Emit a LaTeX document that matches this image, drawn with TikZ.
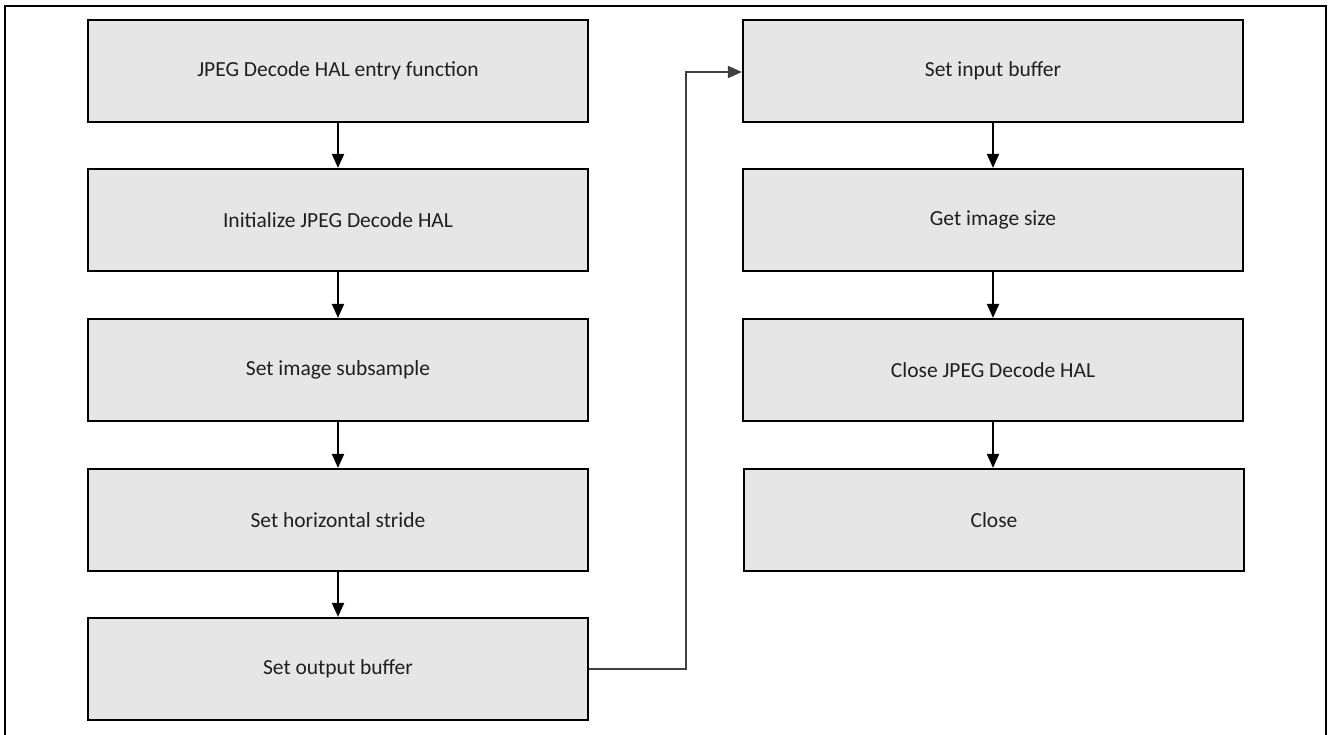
\documentclass[tikz,border=0pt]{standalone}
\usepackage{fontspec}
\setmainfont{Carlito}
\usetikzlibrary{arrows.meta}
\definecolor{boxfill}{HTML}{E6E6E6}
\definecolor{linkgray}{HTML}{404040}
\tikzset{
  stepbox/.style={draw=black, line width=2.2pt, fill=boxfill,
    minimum width=500pt, minimum height=102pt, inner sep=0pt,
    font=\fontsize{21.5}{24}\selectfont, text=black!88},
  flow/.style={draw=black, line width=2pt, -{Triangle[length=14pt,width=12pt]}},
  link/.style={draw=linkgray, line width=2pt, -{Triangle[length=14pt,width=12pt]}}
}
\begin{document}
\begin{tikzpicture}[x=1pt,y=-1pt]
  \useasboundingbox (0,0) rectangle (1328,734);
  % outer frame (bottom edge lies below the page)
  \draw[line width=2.2pt] (5,6) rectangle (1326,745);

  % left column
  \node[stepbox] (a1) at (338,71)  {JPEG Decode HAL entry function};
  \node[stepbox] (a2) at (338,220) {Initialize JPEG Decode HAL};
  \node[stepbox] (a3) at (338,370) {Set image subsample};
  \node[stepbox] (a4) at (338,520) {Set horizontal stride};
  \node[stepbox] (a5) at (338,669) {Set output buffer};

  % right column
  \node[stepbox] (b1) at (993,71)  {Set input buffer};
  \node[stepbox] (b2) at (993,220) {Get image size};
  \node[stepbox] (b3) at (993,370) {Close JPEG Decode HAL};
  \node[stepbox] (b4) at (994,520) {Close};

  \draw[flow] (a1) -- (a2);
  \draw[flow] (a2) -- (a3);
  \draw[flow] (a3) -- (a4);
  \draw[flow] (a4) -- (a5);

  \draw[flow] (b1) -- (b2);
  \draw[flow] (b2) -- (b3);
  \draw[flow] (b3.south) -- (b3.south |- b4.north);

  \coordinate (turn) at (686,72);
  \draw[link] (a5.east) -- (a5.east -| turn) -- (turn) -- (b1.west |- turn);
\end{tikzpicture}
\end{document}
